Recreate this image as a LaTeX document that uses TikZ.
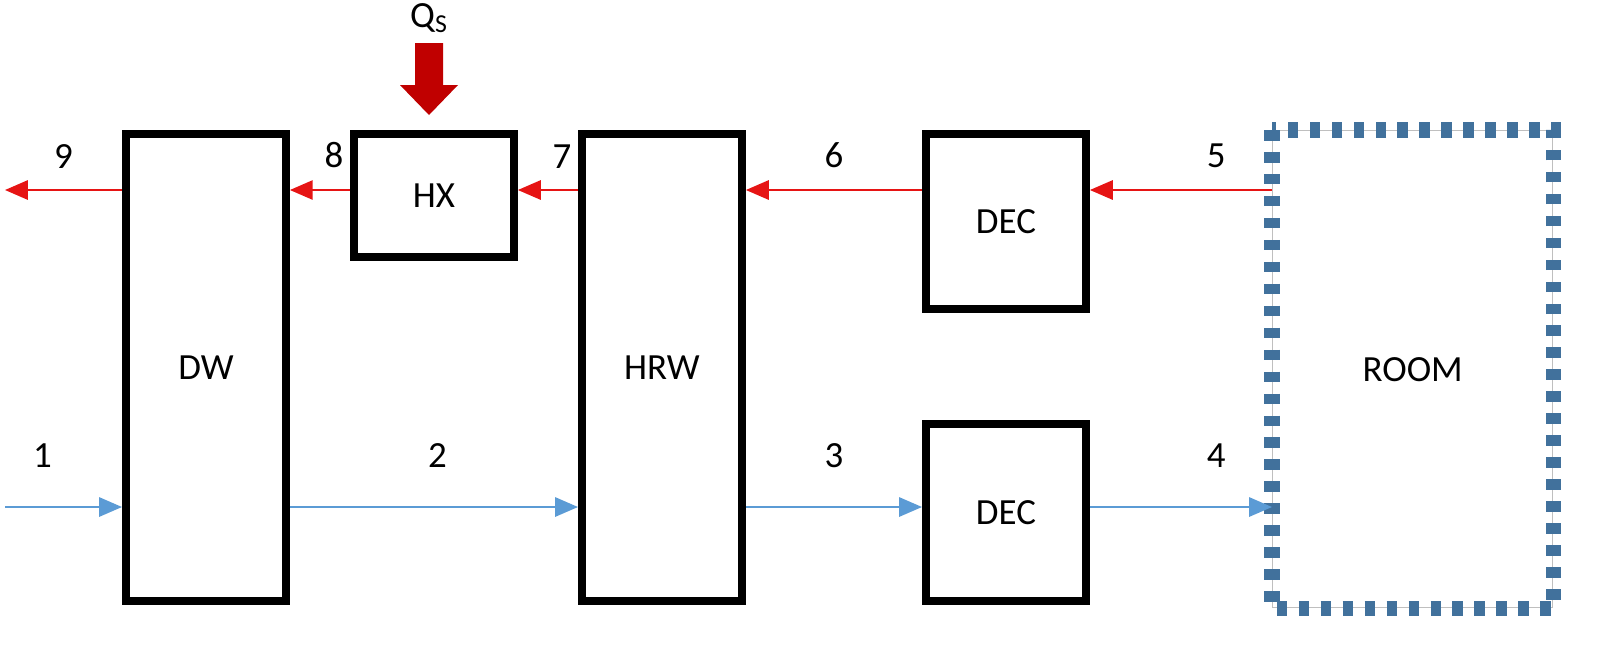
\documentclass[tikz,border=0pt]{standalone}
\usepackage{fontspec}
\setmainfont{Carlito}
\usetikzlibrary{arrows.meta}
\definecolor{ared}{RGB}{230,20,20}
\definecolor{ablue}{RGB}{91,155,213}
\definecolor{rblue}{RGB}{65,113,156}
\definecolor{qred}{RGB}{192,0,0}
\begin{document}
\begin{tikzpicture}[x=0.02cm,y=-0.02cm,
 blk/.style={draw=black,line width=4.5pt,anchor=north west,inner sep=0pt,font=\fontsize{21}{24}\selectfont},
 lbl/.style={font=\fontsize{21}{24}\selectfont,inner sep=0pt},
 rf/.style={draw=ared,line width=1pt,-{Triangle[length=13pt,width=11pt]}},
 bf/.style={draw=ablue,line width=1pt,-{Triangle[length=13pt,width=11pt]}}]
\node[blk,minimum width=160*0.02cm,minimum height=467*0.02cm] (dw) at (122,130) {DW};
\node[blk,minimum width=160*0.02cm,minimum height=123*0.02cm] (hx) at (350,130) {HX};
\node[blk,minimum width=160*0.02cm,minimum height=467*0.02cm] (hrw) at (578,130) {HRW};
\node[blk,minimum width=160*0.02cm,minimum height=175*0.02cm] (dec1) at (922,130) {DEC};
\node[blk,minimum width=160*0.02cm,minimum height=177*0.02cm] (dec2) at (922,420) {DEC};
\node[anchor=north west,inner sep=0pt,minimum width=280*0.02cm,minimum height=477*0.02cm,draw=gray!50,line width=0.8pt,font=\fontsize{21}{24}\selectfont] (room) at (1272,130) {ROOM};
\draw[rblue,line width=9pt,dash pattern=on 6pt off 6.5pt] (room.north west) rectangle (room.south east);
\coordinate (o9) at (5,190);
\coordinate (i1) at (5,507);
\draw[rf] (dw.west|-o9) -- (o9) node[lbl,midway,above=12pt] {9};
\draw[rf] (hx.west|-o9) -- (dw.east|-o9) node[lbl,midway,above=12pt,xshift=8pt] {8};
\draw[rf] (hrw.west|-o9) -- (hx.east|-o9) node[lbl,midway,above=12pt,xshift=8pt] {7};
\draw[rf] (dec1.west|-o9) -- (hrw.east|-o9) node[lbl,midway,above=12pt] {6};
\draw[rf] (room.west|-o9) -- (dec1.east|-o9) node[lbl,midway,above=12pt,xshift=20pt] {5};
\draw[bf] (i1) -- (dw.west|-i1) node[lbl,midway,above=22pt,xshift=-12pt] {1};
\draw[bf] (dw.east|-i1) -- (hrw.west|-i1) node[lbl,midway,above=22pt,xshift=2pt] {2};
\draw[bf] (hrw.east|-i1) -- (dec2.west|-i1) node[lbl,midway,above=22pt] {3};
\draw[bf] (dec2.east|-i1) -- (room.west|-i1) node[lbl,midway,above=22pt,xshift=20pt] {4};
\fill[qred] (415,43) -- (443,43) -- (443,85) -- (458,85) -- (429,115) -- (400,85) -- (415,85) -- cycle;
\node[lbl] (qs) at (429,18) {Q\textsubscript{S}};
\pgfresetboundingbox
\useasboundingbox (0,0) rectangle (1620,647);
\end{tikzpicture}
\end{document}
